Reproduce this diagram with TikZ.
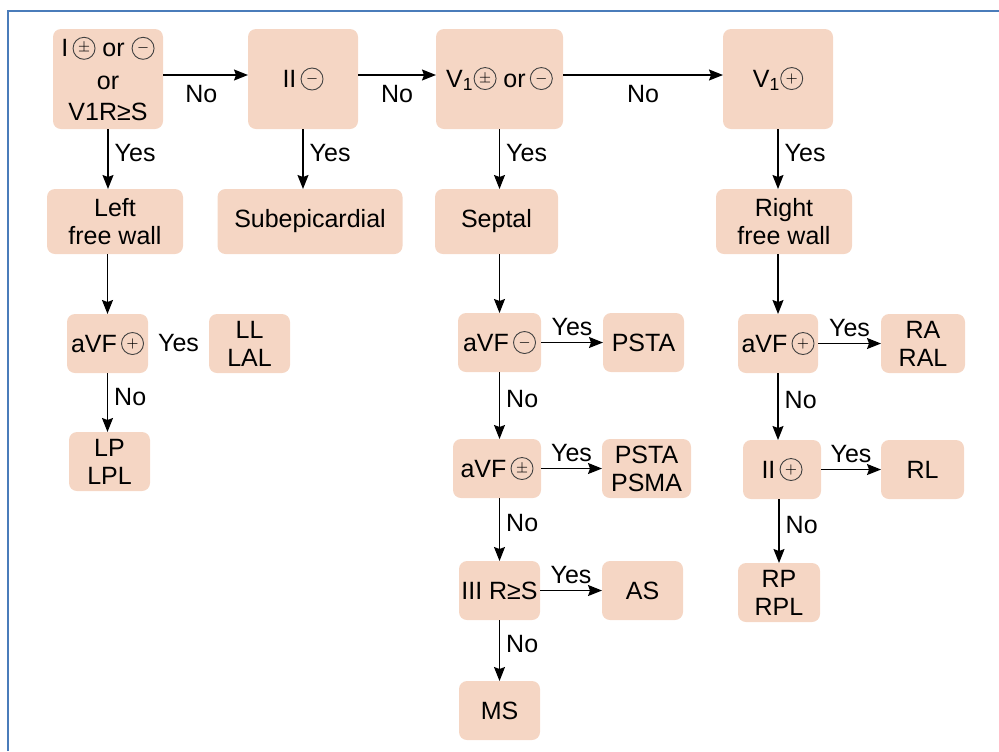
\documentclass[tikz,border=0pt]{standalone}
\usepackage{fontspec}
\setmainfont{Liberation Sans}
\usetikzlibrary{positioning,arrows.meta}
\definecolor{boxpeach}{RGB}{245,214,196}
\definecolor{frameblue}{RGB}{74,124,186}
\newcommand{\csgn}[1]{\tikz[baseline={([yshift=-4.3pt]c.center)}]\node[circle, draw=black!75, line width=0.45pt, inner sep=0pt, minimum size=11pt, font=\fontsize{7}{7}\selectfont] (c) {$#1$};}

\begin{document}
\begin{tikzpicture}[
    x=0.5pt, y=-0.5pt,
    font=\fontsize{12.5}{14}\selectfont,
    box/.style={rectangle, fill=boxpeach, rounded corners=4pt, align=center, inner sep=1pt, outer sep=0pt},
    qbox/.style={box, minimum width=55pt, minimum height=50pt},
    wbox/.style={box, minimum height=32.5pt},
    sbox/.style={box, minimum width=40.5pt, minimum height=29.5pt},
    arr/.style={-{Stealth[length=7pt, width=5.5pt, inset=1pt]}, line width=0.7pt},
    lbl/.style={inner sep=3pt}
]
    \useasboundingbox (0,0) rectangle (999,751);
    % frame
    \draw[frameblue, line width=1pt] (8,751) |- (999,11);

    % Questions on the top row
    \node[qbox] (q1) at (108,79) {I\,\csgn{\pm} or \csgn{-}\\[2.5pt]or\\[1.5pt]V1R≥S};
    \node[qbox, right=42.5pt of q1] (q2) {II\,\csgn{-}};
    \node[qbox, minimum width=63.5pt, right=39pt of q2] (q3) {V\textsubscript{1}\csgn{\pm} or\,\csgn{-}};
    \node[qbox, right=80pt of q3] (q4) {V\textsubscript{1}\csgn{+}};

    % Regions
    \node[wbox, minimum width=68pt, below=30pt of q1, xshift=3.5pt] (lfw) {Left\\free wall};
    \node[wbox, minimum width=92.5pt, below=30pt of q2, xshift=3.5pt] (sub) {Subepicardial};
    \node[wbox, minimum width=61.5pt, below=30pt of q3, xshift=-1.5pt] (sep) {Septal};
    \node[wbox, minimum width=68pt, below=30pt of q4, xshift=3pt] (rfw) {Right\\free wall};

    % Left free wall branch
    \node[sbox, below=30pt of lfw, xshift=-3.75pt] (avfl) {aVF\,\csgn{+}};
    \node[sbox, right=30.5pt of avfl] (ll) {LL\\LAL};
    \node[sbox, below=29.5pt of avfl, xshift=1pt] (lp) {LP\\LPL};

    % Septal branch
    \node[sbox, minimum width=41.5pt, below=29.5pt of sep, xshift=1.5pt] (avfm) {aVF\,\csgn{-}};
    \node[sbox, right=31pt of avfm] (psta) {PSTA};
    \node[sbox, minimum width=44pt, below=33.5pt of avfm, xshift=-1.25pt] (avfpm) {aVF\,\csgn{\pm}};
    \node[sbox, minimum width=44.5pt, right=30.5pt of avfpm] (pspm) {PSTA\\PSMA};
    \node[sbox, below=31.5pt of avfpm, xshift=1.25pt] (iii) {III R≥S};
    \node[sbox, right=31pt of iii] (as) {AS};
    \node[sbox, below=30.5pt of iii] (ms) {MS};

    % Right free wall branch
    \node[sbox, minimum width=40pt, below=30pt of rfw, xshift=-3pt] (avfr) {aVF\,\csgn{+}};
    \node[sbox, minimum width=42pt, right=31.5pt of avfr] (ra) {RA\\RAL};
    \node[sbox, minimum width=39pt, below=33.5pt of avfr, xshift=2pt] (iip) {II\,\csgn{+}};
    \node[sbox, minimum width=41.5pt, right=30pt of iip] (rl) {RL};
    \node[sbox, minimum width=41pt, below=32pt of iip, xshift=-1.5pt] (rp) {RP\\RPL};

    % No chain
    \draw[arr] ([yshift=2pt]q1.east) -- ([yshift=2pt]q2.west) node[lbl, pos=0.45, below, yshift=-2pt] {No};
    \draw[arr] ([yshift=2pt]q2.east) -- ([yshift=2pt]q3.west) node[lbl, midway, below, yshift=-2pt] {No};
    \draw[arr] ([yshift=2pt]q3.east) -- ([yshift=2pt]q4.west) node[lbl, midway, below, yshift=-2pt] {No};

    % Yes to regions
    \draw[arr] (q1.south) -- (q1.south |- lfw.north) node[lbl, pos=0.4, right] {Yes};
    \draw[arr] (q2.south) -- (q2.south |- sub.north) node[lbl, pos=0.4, right] {Yes};
    \draw[arr] (q3.south) -- (q3.south |- sep.north) node[lbl, pos=0.4, right] {Yes};
    \draw[arr] (q4.south) -- (q4.south |- rfw.north) node[lbl, pos=0.4, right] {Yes};

    % Left
    \draw[arr] (avfl.north |- lfw.south) -- (avfl.north);
    \path (avfl.east) -- (ll.west) node[midway] {Yes};
    \draw[arr] (avfl.south) -- (avfl.south |- lp.north) node[lbl, pos=0.4, right] {No};

    % Septal
    \draw[arr] (avfm.north |- sep.south) -- (avfm.north);
    \draw[arr] (avfm.east) -- (psta.west) node[lbl, midway, above] {Yes};
    \draw[arr] (avfm.south) -- (avfm.south |- avfpm.north) node[lbl, pos=0.4, right] {No};
    \draw[arr] (avfpm.east) -- (pspm.west) node[lbl, midway, above] {Yes};
    \draw[arr] (iii.north |- avfpm.south) -- (iii.north) node[lbl, pos=0.4, right] {No};
    \draw[arr] (iii.east) -- (as.west) node[lbl, midway, above] {Yes};
    \draw[arr] (iii.south) -- (iii.south |- ms.north) node[lbl, pos=0.4, right] {No};

    % Right
    \draw[arr] (avfr.north |- rfw.south) -- (avfr.north);
    \draw[arr] (avfr.east) -- (ra.west) node[lbl, midway, above] {Yes};
    \draw[arr] (avfr.south) -- (avfr.south |- iip.north) node[lbl, pos=0.4, right] {No};
    \draw[arr] (iip.east) -- (rl.west) node[lbl, midway, above] {Yes};
    \draw[arr] (rp.north |- iip.south) -- (rp.north) node[lbl, pos=0.4, right] {No};
\end{tikzpicture}
\end{document}
